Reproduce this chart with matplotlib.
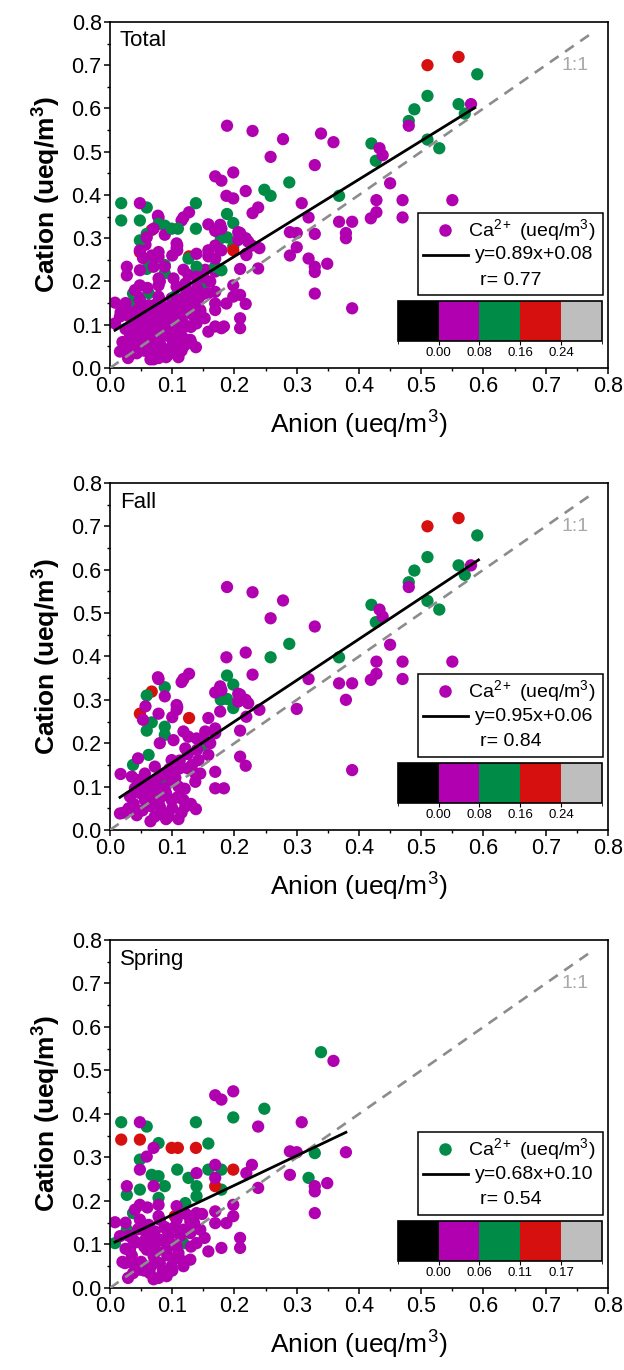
import numpy as np
import matplotlib
matplotlib.use("Agg")
import matplotlib.pyplot as plt
from matplotlib.colors import ListedColormap, BoundaryNorm
from matplotlib.patches import Rectangle
import matplotlib.colorbar as mcolorbar
from matplotlib.ticker import MultipleLocator, FormatStrFormatter

plt.rcParams['font.family'] = ['Liberation Sans', 'DejaVu Sans']
plt.rcParams['mathtext.fontset'] = 'custom'
plt.rcParams['mathtext.rm'] = 'Liberation Sans'
plt.rcParams['mathtext.it'] = 'Liberation Sans'
plt.rcParams['mathtext.default'] = 'regular'

# ---------------- data ----------------
fall_anion = [
    0.510, 0.560, 0.067, 0.048, 0.127,
    0.590, 0.510, 0.489, 0.480, 0.560, 0.570, 0.510, 0.529, 0.420, 0.427, 0.288, 0.258, 0.368,
    0.188, 0.198, 0.178, 0.188, 0.198, 0.088, 0.059, 0.067, 0.059, 0.088, 0.088, 0.062, 0.037,
    0.088, 0.149,
    0.580, 0.480, 0.188, 0.229, 0.278, 0.258, 0.329, 0.433, 0.438, 0.450, 0.428, 0.470, 0.550,
    0.470, 0.419, 0.428, 0.368, 0.389, 0.379, 0.319, 0.300, 0.389, 0.187, 0.218, 0.229, 0.240,
    0.218, 0.209, 0.169, 0.177, 0.118, 0.127, 0.115, 0.078, 0.088, 0.057, 0.108, 0.078, 0.100,
    0.158, 0.053, 0.209, 0.169, 0.139, 0.209, 0.218, 0.169, 0.118, 0.138, 0.017, 0.016,
    0.107, 0.107, 0.118, 0.080, 0.102, 0.126, 0.121, 0.153, 0.161, 0.169, 0.177, 0.206, 0.219,
    0.158, 0.142, 0.169, 0.183, 0.125, 0.099, 0.072, 0.045, 0.035, 0.051, 0.072, 0.099, 0.110,
    0.137, 0.032, 0.056, 0.083, 0.099, 0.080, 0.094, 0.072, 0.043, 0.121, 0.062, 0.040, 0.088,
    0.086, 0.056, 0.137, 0.112, 0.179, 0.206, 0.222, 0.077,
    0.030, 0.038, 0.048, 0.052, 0.060, 0.065, 0.068, 0.075, 0.078, 0.082, 0.085, 0.090, 0.095,
    0.100, 0.105, 0.108, 0.112, 0.115, 0.120, 0.125, 0.130, 0.132, 0.140, 0.145, 0.150, 0.022,
    0.065, 0.090, 0.110, 0.044,
]
fall_cation = [
    0.700, 0.719, 0.319, 0.268, 0.258,
    0.679, 0.629, 0.598, 0.571, 0.610, 0.588, 0.528, 0.508, 0.519, 0.479, 0.429, 0.398, 0.398,
    0.356, 0.335, 0.300, 0.302, 0.281, 0.329, 0.310, 0.248, 0.229, 0.238, 0.219, 0.173, 0.150,
    0.115, 0.196,
    0.610, 0.560, 0.560, 0.548, 0.529, 0.488, 0.469, 0.508, 0.492, 0.427, 0.388, 0.388, 0.388,
    0.348, 0.346, 0.360, 0.338, 0.338, 0.300, 0.348, 0.279, 0.138, 0.398, 0.409, 0.358, 0.277,
    0.300, 0.312, 0.317, 0.331, 0.348, 0.360, 0.341, 0.348, 0.308, 0.285, 0.283, 0.268, 0.260,
    0.258, 0.254, 0.229, 0.223, 0.211, 0.169, 0.148, 0.096, 0.069, 0.048, 0.129, 0.038,
    0.288, 0.277, 0.227, 0.200, 0.207, 0.215, 0.188, 0.227, 0.200, 0.234, 0.273, 0.296, 0.261,
    0.173, 0.161, 0.134, 0.096, 0.142, 0.161, 0.146, 0.165, 0.123, 0.100, 0.115, 0.115, 0.100,
    0.111, 0.077, 0.069, 0.077, 0.069, 0.054, 0.031, 0.031, 0.034, 0.054, 0.092, 0.096, 0.096,
    0.130, 0.130, 0.130, 0.142, 0.322, 0.314, 0.292, 0.352,
    0.050, 0.060, 0.085, 0.045, 0.110, 0.055, 0.080, 0.100, 0.060, 0.125, 0.040, 0.085, 0.140,
    0.050, 0.120, 0.075, 0.160, 0.040, 0.095, 0.175, 0.060, 0.150, 0.185, 0.130, 0.210, 0.040,
    0.020, 0.025, 0.025, 0.115,
]
fall_ca = ([0.20] * 5 + [0.12] * 28 + [0.04] * 98 + [0.04] * 30)

spring_anion = [
    0.339, 0.198, 0.248, 0.138, 0.018, 0.059, 0.078, 0.158, 0.048, 0.108, 0.158, 0.179, 0.329,
    0.319, 0.067, 0.078, 0.126, 0.088, 0.027, 0.048, 0.139, 0.139, 0.078, 0.121, 0.037, 0.008,
    0.118, 0.027, 0.179,
    0.018, 0.048, 0.099, 0.109, 0.138, 0.198, 0.169, 0.104,
    0.359, 0.169, 0.179, 0.198, 0.308, 0.238, 0.048, 0.379, 0.289, 0.300, 0.289, 0.329, 0.329,
    0.349, 0.329, 0.228, 0.219, 0.238, 0.169, 0.169, 0.139, 0.070, 0.059, 0.027, 0.048, 0.070,
    0.008, 0.048, 0.078, 0.107, 0.139, 0.198, 0.198, 0.169, 0.169, 0.187, 0.209, 0.209, 0.179,
    0.139, 0.158, 0.118, 0.129, 0.029, 0.078,
    0.016, 0.032, 0.037, 0.048, 0.059, 0.070, 0.080, 0.091, 0.099, 0.107, 0.070, 0.091, 0.054,
    0.037, 0.080, 0.048, 0.107, 0.118, 0.129, 0.064, 0.037, 0.091, 0.129, 0.145, 0.024, 0.091,
    0.107,
    0.020, 0.025, 0.030, 0.035, 0.042, 0.045, 0.050, 0.055, 0.058, 0.062, 0.066, 0.068, 0.072,
    0.075, 0.078, 0.082, 0.085, 0.088, 0.092, 0.095, 0.100, 0.104, 0.110, 0.113, 0.118, 0.122,
    0.130, 0.135, 0.148, 0.152, 0.060, 0.040, 0.025, 0.070, 0.055, 0.100,
]
spring_cation = [
    0.542, 0.392, 0.412, 0.381, 0.381, 0.371, 0.333, 0.332, 0.295, 0.272, 0.272, 0.272, 0.310,
    0.253, 0.260, 0.257, 0.253, 0.234, 0.214, 0.226, 0.234, 0.211, 0.207, 0.195, 0.172, 0.103,
    0.103, 0.134, 0.226,
    0.341, 0.341, 0.322, 0.322, 0.322, 0.272, 0.234, 0.165,
    0.522, 0.443, 0.433, 0.452, 0.381, 0.371, 0.381, 0.312, 0.314, 0.312, 0.260, 0.234, 0.222,
    0.241, 0.172, 0.283, 0.264, 0.230, 0.283, 0.253, 0.264, 0.322, 0.302, 0.234, 0.272, 0.234,
    0.151, 0.191, 0.191, 0.188, 0.172, 0.191, 0.165, 0.176, 0.149, 0.149, 0.115, 0.092, 0.092,
    0.103, 0.084, 0.061, 0.065, 0.023, 0.023,
    0.119, 0.088, 0.057, 0.042, 0.088, 0.073, 0.057, 0.088, 0.050, 0.069, 0.119, 0.134, 0.134,
    0.111, 0.157, 0.157, 0.157, 0.134, 0.153, 0.034, 0.034, 0.027, 0.126, 0.134, 0.057, 0.103,
    0.096,
    0.060, 0.090, 0.120, 0.075, 0.105, 0.135, 0.060, 0.095, 0.115, 0.145, 0.050, 0.100, 0.130,
    0.085, 0.165, 0.110, 0.040, 0.140, 0.075, 0.120, 0.100, 0.140, 0.080, 0.120, 0.050, 0.170,
    0.095, 0.150, 0.170, 0.115, 0.185, 0.180, 0.150, 0.020, 0.040, 0.040,
]
spring_ca = ([0.07, 0.07, 0.09, 0.09, 0.09, 0.09, 0.09, 0.07, 0.09, 0.07, 0.07, 0.07, 0.07,
              0.07, 0.07, 0.07, 0.09, 0.07, 0.07, 0.07, 0.09, 0.07, 0.07, 0.07, 0.09, 0.07,
              0.07, 0.07, 0.09]
             + [0.13, 0.13, 0.13, 0.13, 0.13, 0.165, 0.13, 0.13]
             + [0.03] * 45 + [0.03] * 27 + [0.03] * 36)

total_anion = fall_anion + spring_anion
total_cation = fall_cation + spring_cation
total_ca = fall_ca + spring_ca

panel_names = ["Total", "Fall", "Spring"]
fit_slopes = [0.89, 0.95, 0.68]
fit_intercepts = [0.08, 0.06, 0.10]
fit_r = ["0.77", "0.84", "0.54"]
fit_xrange = [(0.008, 0.586), (0.016, 0.592), (0.008, 0.379)]
ca_bounds = [[0.00, 0.08, 0.16, 0.24], [0.00, 0.08, 0.16, 0.24], [0.00, 0.06, 0.11, 0.17]]
ca_ticklabels = [["0.00", "0.08", "0.16", "0.24"], ["0.00", "0.08", "0.16", "0.24"],
                 ["0.00", "0.06", "0.11", "0.17"]]
legend_marker_color = ["#B000B0", "#B000B0", "#008C46"]

block_colors = ["#000000", "#B000B0", "#008C46", "#D60F0F", "#BEBEBE"]
cmap = ListedColormap(block_colors)

# ---------------- figure ----------------
fig = plt.figure(figsize=(6.24, 13.70), dpi=100)
axes_rects = [
    [0.1763, 0.7314, 0.798, 0.2526],
    [0.1763, 0.3942, 0.798, 0.2533],
    [0.1763, 0.0599, 0.798, 0.2540],
]
datasets = [(total_anion, total_cation, total_ca),
            (fall_anion, fall_cation, fall_ca),
            (spring_anion, spring_cation, spring_ca)]

for i, rect in enumerate(axes_rects):
    ax = fig.add_axes(rect)
    xs, ys, cs = datasets[i]
    b = ca_bounds[i]
    step = b[1] - b[0]
    bounds = [b[0] - step] + b + [b[-1] + step]
    norm = BoundaryNorm(bounds, cmap.N)

    # 1:1 line
    ax.plot([0, 0.776], [0, 0.776], color="#8C8C8C", lw=1.9, dashes=(4, 3), zorder=3)
    ax.text(0.747, 0.70, "1:1", color="#A8A8A8", fontsize=14, ha="center", va="center")

    ax.scatter(xs, ys, c=cs, cmap=cmap, norm=norm, s=78, marker="o",
               linewidths=0, zorder=2)

    x0, x1 = fit_xrange[i]
    fx = np.array([x0, x1])
    ax.plot(fx, fit_slopes[i] * fx + fit_intercepts[i], color="black", lw=2, zorder=4)

    ax.set_xlim(0, 0.8)
    ax.set_ylim(0, 0.8)
    ax.xaxis.set_major_locator(MultipleLocator(0.1))
    ax.yaxis.set_major_locator(MultipleLocator(0.1))
    ax.xaxis.set_minor_locator(MultipleLocator(0.05))
    ax.yaxis.set_minor_locator(MultipleLocator(0.05))
    ax.xaxis.set_major_formatter(FormatStrFormatter("%.1f"))
    ax.yaxis.set_major_formatter(FormatStrFormatter("%.1f"))
    ax.tick_params(which="major", direction="out", length=4, width=1.1, labelsize=15.5,
                   top=False, right=False, pad=2)
    ax.tick_params(which="minor", direction="out", length=2.5, width=1.0,
                   top=False, right=False)
    for sp in ax.spines.values():
        sp.set_linewidth(1.2)

    ax.set_xlabel("Anion (ueq/m$^3$)", fontsize=19, labelpad=8)
    ax.set_ylabel("Cation (ueq/m$^3$)", fontsize=19, fontweight="bold", labelpad=6)

    ax.text(0.02, 0.945, panel_names[i], transform=ax.transAxes, fontsize=16,
            ha="left", va="center")

    # legend box (manual)
    ax.add_patch(Rectangle((0.618, 0.211), 0.372, 0.237, transform=ax.transAxes,
                           facecolor="white", edgecolor="black", lw=1.1, zorder=6))
    ax.plot([0.673], [0.399], marker="o", ms=8, color=legend_marker_color[i],
            transform=ax.transAxes, zorder=7, clip_on=False)
    ax.text(0.719, 0.399, "Ca$^{2+}$ (ueq/m$^3$)", transform=ax.transAxes, fontsize=14,
            ha="left", va="center", zorder=7)
    ax.plot([0.629, 0.719], [0.327, 0.327], color="black", lw=2, transform=ax.transAxes,
            zorder=7)
    ax.text(0.733, 0.327, "y=%.2fx+%.2f" % (fit_slopes[i], fit_intercepts[i]),
            transform=ax.transAxes, fontsize=14, ha="left", va="center", zorder=7)
    ax.text(0.743, 0.254, "r= " + fit_r[i], transform=ax.transAxes, fontsize=14,
            ha="left", va="center", zorder=7)

    # colour scale
    cax = ax.inset_axes([0.578, 0.078, 0.410, 0.115])
    cb = mcolorbar.ColorbarBase(cax, cmap=cmap, norm=norm, orientation="horizontal",
                                spacing="uniform", ticks=b)
    cb.set_ticklabels(ca_ticklabels[i])
    cb.outline.set_linewidth(1.2)
    cax.tick_params(labelsize=9.5, length=3, width=0.8, pad=1.5)
    cax.set_zorder(8)

fig.savefig("out.png", dpi=100)
